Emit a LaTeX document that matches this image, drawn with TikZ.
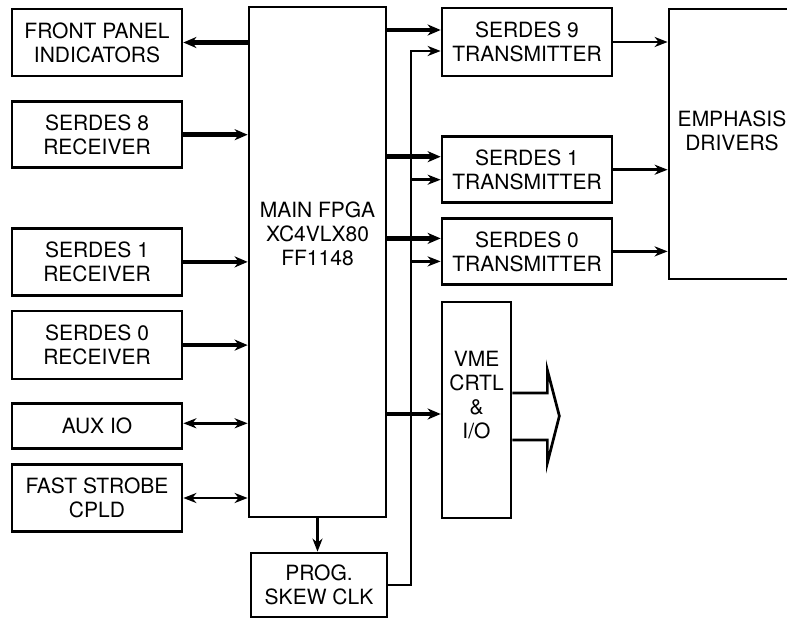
\documentclass[tikz,border=0pt]{standalone}
\usepackage{fontspec}
\setmainfont{TeX Gyre Heros}
\usepackage{tikz}
\usetikzlibrary{positioning, arrows.meta}

\tikzset{
  block/.style={draw, line width=2.7pt, minimum width=170pt, align=center, inner sep=0pt},
  wide link/.style={line width=4.4pt, -{Stealth[length=13pt, width=11pt, inset=4pt]}},
  thin link/.style={line width=2.7pt, -{Stealth[length=13pt, width=10pt, inset=4pt]}},
  both link/.style={line width=2.9pt, {Stealth[length=13pt, width=10pt, inset=4pt]}-{Stealth[length=13pt, width=10pt, inset=4pt]}}
}

\begin{document}
\begin{tikzpicture}[x=1pt, y=-1pt, font=\fontsize{21}{24}\selectfont]
      \useasboundingbox (0,0) rectangle (787,620);

      % Inputs / outputs on the left
      \node[block, minimum height=67pt] (fp) at (97,42.5) {FRONT PANEL\\INDICATORS};
      \node[block, minimum height=66pt, below=23pt of fp] (s8rx) {SERDES 8\\RECEIVER};
      \node[block, minimum height=67pt, below=58pt of s8rx] (s1rx) {SERDES 1\\RECEIVER};
      \node[block, minimum height=68pt, below=13pt of s1rx] (s0rx) {SERDES 0\\RECEIVER};
      \node[block, minimum height=45pt, below=22pt of s0rx] (aux) {AUX IO};
      \node[block, minimum height=67pt, below=13pt of aux] (fast) {FAST STROBE\\CPLD};

      % FPGA and clock
      \node[block, minimum width=137pt, minimum height=510pt,
            label={[yshift=28pt, align=center]center:MAIN FPGA\\XC4VLX80\\FF1148}] (main) at (317.5,262) {};
      \node[block, minimum width=136pt, minimum height=64pt] (skew) at (319,585) {PROG.\\SKEW CLK};

      % Transmitters
      \node[block, minimum height=68pt] (tx9) at (527,42) {SERDES 9\\TRANSMITTER};
      \node[block, minimum height=66pt, below=58pt of tx9] (tx1) {SERDES 1\\TRANSMITTER};
      \node[block, minimum height=66pt, below=13pt of tx1] (tx0) {SERDES 0\\TRANSMITTER};
      \node[block, minimum width=69pt, minimum height=216pt,
            label={[yshift=15pt, align=center]center:VME\\CRTL\\\&\\I/O}] (vme) at (476.5,410) {};
      \node[block, minimum width=126pt, minimum height=270pt,
            label={[yshift=13pt, align=center]center:EMPHASIS\\DRIVERS}] (emph) at (732,144) {};

      % Left side links
      \draw[wide link] (fp.east -| main.west) -- (fp.east);
      \draw[wide link] (s8rx.east) -- (s8rx.east -| main.west);
      \draw[wide link] (s1rx.east) -- (s1rx.east -| main.west);
      \draw[wide link] (s0rx.east) -- (s0rx.east -| main.west);
      \draw[both link] ([yshift=3pt]aux.east) -- ([yshift=3pt]aux.east -| main.west);
      \draw[both link] (fast.east) -- (fast.east -| main.west);

      % Data to the transmitters
      \coordinate (d9) at ([yshift=12pt]tx9.west);
      \coordinate (d1) at ([yshift=13pt]tx1.west);
      \coordinate (d0) at ([yshift=13pt]tx0.west);
      \draw[wide link] (d9 -| main.east) -- (d9);
      \draw[wide link] (d1 -| main.east) -- (d1);
      \draw[wide link] (d0 -| main.east) -- (d0);
      \draw[wide link] ([yshift=-4pt]vme.west -| main.east) -- ([yshift=-4pt]vme.west);

      % Clock
      \coordinate (clkbus) at (411,0);
      \coordinate (c9) at ([yshift=-9pt]tx9.west);
      \coordinate (c1) at ([yshift=-10pt]tx1.west);
      \coordinate (c0) at ([yshift=-10pt]tx0.west);
      \draw[thin link] (main.south) -- (main.south |- skew.north);
      \draw[thin link] (skew.east) -| (clkbus |- c9) -- (c9);
      \draw[thin link] (clkbus |- c1) -- (c1);
      \draw[thin link] (clkbus |- c0) -- (c0);

      % Outputs
      \draw[thin link] (tx9.east) -- (tx9.east -| emph.west);
      \draw[thin link] (tx1.east) -- (tx1.east -| emph.west);
      \draw[thin link] (tx0.east) -- (tx0.east -| emph.west);

      % VME bus arrow
      \coordinate (vmeout) at ([yshift=-6pt]vme.east);
      \draw[line width=2.7pt, line join=miter] ([yshift=23pt]vmeout) -- ++(35,0) -- ++(0,-23)
            -- ++(12,46) -- ++(-12,47) -- ++(0,-23) -- ([yshift=-24pt]vmeout);
\end{tikzpicture}
\end{document}
